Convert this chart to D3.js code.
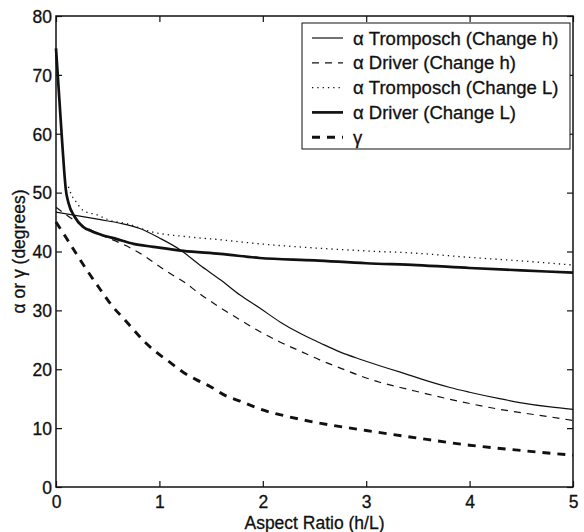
<!DOCTYPE html>
<html><head><meta charset="utf-8">
<script src="https://cdn.jsdelivr.net/npm/d3@7"></script>
<style>body{margin:0;background:#fff}svg{display:block}text{font-family:"Liberation Sans",Arial,sans-serif;fill:#111}</style>
</head><body>
<script>
// ---- data ----
const xTicks = [0,1,2,3,4,5];
const yTicks = [0,10,20,30,40,50,60,70,80];
const legendLabels = ["α Tromposch (Change h)","α Driver (Change h)","α Tromposch (Change L)","α Driver (Change L)","γ"];

const trompH_x = [0,0.2,0.43,0.62,0.81,1.0,1.2,1.39,1.59,1.78,1.97,2.17,2.36,2.55,2.75,2.94,3.13,3.33,3.52,3.81,4.0,4.29,4.5,4.78,5];
const trompH_y = [46.7,46.1,45.4,44.8,43.9,42.3,40.3,37.7,35.2,32.6,30.4,28.0,26.1,24.5,22.9,21.7,20.6,19.5,18.4,16.9,16.1,15.0,14.3,13.6,13.2];

const driverH_x = [0,0.1,0.25,0.45,0.6,0.72,0.84,0.98,1.1,1.25,1.36,1.49,1.62,1.78,1.97,2.17,2.36,2.55,2.75,2.94,3.13,3.33,3.52,3.81,4.29,4.78,5];
const driverH_y = [47.5,46.2,44.5,42.7,41.6,40.6,39.4,37.7,36.3,34.7,33.2,31.6,30.1,28.4,26.4,24.6,23.1,21.6,20.2,18.9,17.8,16.9,16.1,14.9,13.2,11.9,11.3];

const trompL_x = [0.12,0.15,0.2,0.26,0.4,0.52,0.69,0.91,1.27,1.59,1.91,2.5,3,3.49,4,4.5,5];
const trompL_y = [51,49.6,48.3,47,46.2,45.3,44.7,43.4,42.5,42.0,41.4,40.6,40.1,39.7,39.0,38.4,37.7];

const driverL_x = [0,0.03,0.06,0.08,0.095,0.12,0.18,0.26,0.35,0.43,0.59,0.75,0.94,1.23,1.59,1.97,2.5,3,3.49,4,4.5,5];
const driverL_y = [74.5,66.5,58.5,53.5,50.5,48.3,45.9,44.2,43.4,42.9,42.1,41.3,40.8,40.1,39.6,38.9,38.5,38.0,37.7,37.2,36.8,36.4];

const gamma_x = [0,0.1,0.2,0.3,0.43,0.55,0.65,0.75,0.86,0.97,1.1,1.23,1.36,1.5,1.63,1.78,1.92,2.07,2.21,2.5,3,3.5,4,4.5,5];
const gamma_y = [45,42.3,39.5,36.8,33.5,30.6,28.7,26.7,24.6,22.9,21.2,19.5,18.2,17,15.6,14.6,13.6,12.7,12.1,11.0,9.6,8.3,7.1,6.2,5.4];

// ---- layout ----
const W = 584, H = 532;
const L = 56, R = 573, T = 16, B = 487;

const svg = d3.select("body").append("svg").attr("width", W).attr("height", H);
const x = d3.scaleLinear().domain([0,5]).range([L,R]);
const y = d3.scaleLinear().domain([0,80]).range([B,T]);

const zip = (xs, ys) => xs.map((v,i)=>[v, ys[i]]);
const series = [
  {data: zip(trompH_x, trompH_y), w: 1.2, dash: null},
  {data: zip(driverH_x, driverH_y), w: 1.2, dash: "7,6"},
  {data: zip(trompL_x, trompL_y), w: 1.3, dash: "1.3,4"},
  {data: zip(driverL_x, driverL_y), w: 2.7, dash: null},
  {data: zip(gamma_x, gamma_y), w: 2.9, dash: "8,7"}
];

const line = d3.line().x(d=>x(d[0])).y(d=>y(d[1])).curve(d3.curveMonotoneX);

const g = svg.append("g");
series.forEach(s=>{
  g.append("path").attr("d", line(s.data)).attr("fill","none")
    .attr("stroke","#111").attr("stroke-width", s.w)
    .attr("stroke-dasharray", s.dash);
});

// box
svg.append("rect").attr("x",L).attr("y",T).attr("width",R-L).attr("height",B-T)
  .attr("fill","none").attr("stroke","#111").attr("stroke-width",1.5);

// axes (inward ticks)
const fs = 17.5;
const xb = svg.append("g").attr("transform",`translate(0,${B})`)
  .call(d3.axisBottom(x).tickValues(xTicks).tickSize(-6).tickPadding(8.5).tickFormat(d3.format("d")));
const xt = svg.append("g").attr("transform",`translate(0,${T})`)
  .call(d3.axisTop(x).tickValues(xTicks).tickSize(-6).tickFormat(""));
const yl = svg.append("g").attr("transform",`translate(${L},0)`)
  .call(d3.axisLeft(y).tickValues(yTicks).tickSize(-6).tickPadding(4).tickFormat(d3.format("d")));
const yr = svg.append("g").attr("transform",`translate(${R},0)`)
  .call(d3.axisRight(y).tickValues(yTicks).tickSize(-6).tickFormat(""));
[xb,xt,yl,yr].forEach(a=>{
  a.select(".domain").remove();
  a.selectAll("line").attr("stroke","#111").attr("stroke-width",1.2);
  a.selectAll("text").attr("font-size",fs).attr("font-family","Liberation Sans, Arial, sans-serif")
    .attr("fill","#111").attr("stroke","#111").attr("stroke-width",0.3);
});
yl.selectAll("text").attr("dy","0.36em");

// axis titles
svg.append("text").attr("x",(L+R)/2 - 0).attr("y",528.5).attr("text-anchor","middle")
  .attr("font-size",fs).attr("stroke","#111").attr("stroke-width",0.3).text("Aspect Ratio (h/L)");
svg.append("text").attr("transform",`translate(25,${(T+B)/2}) rotate(-90)`).attr("text-anchor","middle")
  .attr("font-size",fs).attr("stroke","#111").attr("stroke-width",0.3).text("α or γ (degrees)");

// legend
const lg = svg.append("g");
lg.append("rect").attr("x",302).attr("y",23).attr("width",268).attr("height",126)
  .attr("fill","#fff").attr("stroke","#111").attr("stroke-width",1);
legendLabels.forEach((lab,i)=>{
  const cy = 38 + i*24.8;
  const s = series[i];
  lg.append("line").attr("x1",312).attr("x2",343).attr("y1",cy).attr("y2",cy)
    .attr("stroke","#111").attr("stroke-width",s.w).attr("stroke-dasharray",s.dash);
  lg.append("text").attr("x",353).attr("y",cy+6.5).attr("font-size",18.5)
    .attr("stroke","#111").attr("stroke-width",0.3).text(lab);
});
</script>
</body></html>
